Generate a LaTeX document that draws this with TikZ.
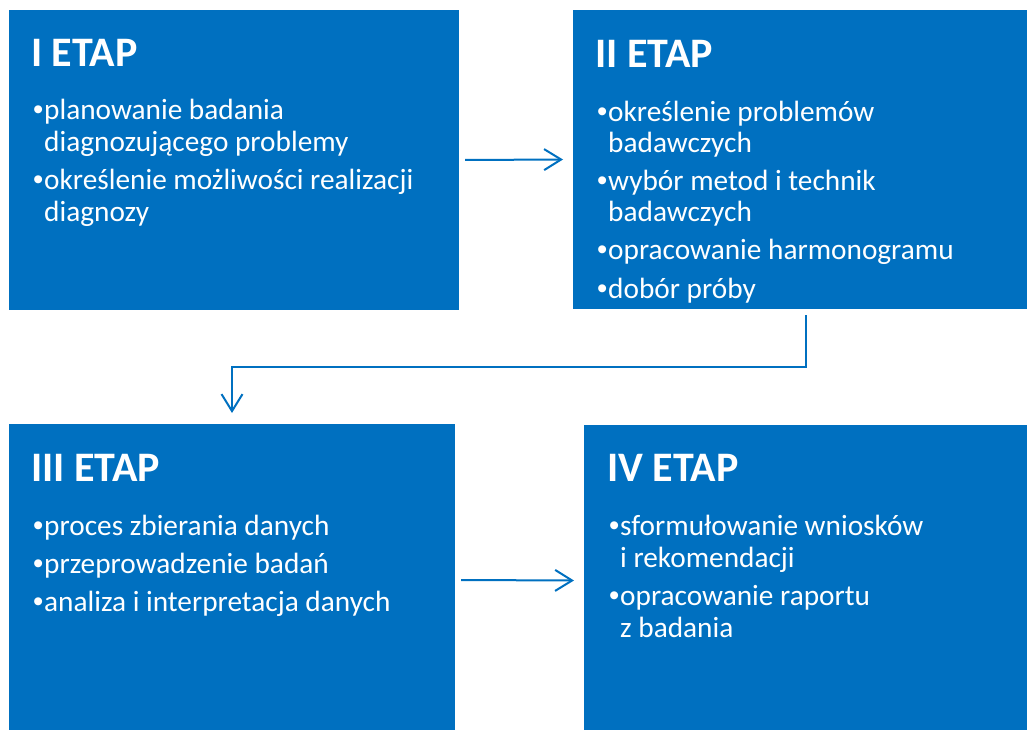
\documentclass[tikz,border=0pt]{standalone}
\usepackage{fontspec}
\setmainfont{Carlito}
\newfontfamily\kropka{Liberation Sans}
\usetikzlibrary{arrows.meta}
\definecolor{niebieski}{HTML}{0070C0}
\newlength{\wcieciepunktu}
\setlength{\wcieciepunktu}{11pt}
\newlength{\odstepmiedzypunktami}
\setlength{\odstepmiedzypunktami}{6pt}
\newcommand{\punkt}[1]{\hangindent=\wcieciepunktu\hangafter=1\noindent\makebox[\wcieciepunktu][l]{\kropka •}#1\par}
\newcommand{\lista}[1]{\parbox[t]{420pt}{\setlength{\parskip}{\odstepmiedzypunktami}#1}}

\begin{document}
\begin{tikzpicture}[x=1pt, y=-1pt,
	etap/.style={rectangle, fill=niebieski, draw=none, inner sep=0pt, outer sep=0pt},
	tytul/.style={anchor=base west, inner sep=0pt, text=white, font=\fontsize{42}{50}\selectfont\bfseries},
	punkty/.style={anchor=base west, inner sep=0pt, text=white, font=\fontsize{29.3}{32}\selectfont},
	strzalka/.style={draw=niebieski, line width=2pt, -{Straight Barb[length=17pt, width=21pt, line width=2pt]}}]
	\useasboundingbox (0,0) rectangle (1027,730);
	% the four stages
	\node[etap, minimum width=450pt, minimum height=300pt] (etapI) at (234,160) {};
	\node[etap, minimum width=454pt, minimum height=299pt] (etapII) at (800,159.5) {};
	\node[etap, minimum width=446pt, minimum height=306pt] (etapIII) at (232,577) {};
	\node[etap, minimum width=443pt, minimum height=305pt] (etapIV) at (805.5,577.5) {};
	% titles and points
	\node[tytul] (tytulI) at ([shift={(22pt,-57pt)}]etapI.north west) {I ETAP};
	\node[punkty] (punktyI) at ([shift={(24pt,-110pt)}]etapI.north west)
		{\lista{\punkt{planowanie badania\\diagnozującego problemy}
		 \punkt{określenie możliwości realizacji\\diagnozy}}};
	\node[tytul] (tytulII) at ([shift={(22pt,-58pt)}]etapII.north west) {II ETAP};
	\node[punkty, font=\fontsize{29.3}{30.5}\selectfont] (punktyII) at ([shift={(24pt,-112pt)}]etapII.north west)
		{\setlength{\odstepmiedzypunktami}{8pt}%
		 \lista{\punkt{określenie problemów\\badawczych}
		 \punkt{wybór metod i technik\\badawczych}
		 \punkt{opracowanie harmonogramu}
		 \punkt{dobór próby}}};
	\node[tytul] (tytulIII) at ([shift={(22pt,-57pt)}]etapIII.north west) {III ETAP};
	\node[punkty] (punktyIII) at ([shift={(24pt,-111pt)}]etapIII.north west)
		{\lista{\punkt{proces zbierania danych}
		 \punkt{przeprowadzenie badań}
		 \punkt{analiza i interpretacja danych}}};
	\node[tytul] (tytulIV) at ([shift={(23pt,-56pt)}]etapIV.north west) {IV ETAP};
	\node[punkty] (punktyIV) at ([shift={(25pt,-110pt)}]etapIV.north west)
		{\lista{\punkt{sformułowanie wniosków\\i rekomendacji}
		 \punkt{opracowanie raportu\\z badania}}};
	% connectors
	\draw[strzalka] ([xshift=6pt]etapI.east) -- ([xshift=-10pt]etapII.west);
	\draw[strzalka] ([shift={(6pt,-6pt)}]etapII.south) -- ++(0,52) -| ([yshift=11pt]etapIII.north);
	\draw[strzalka] ([shift={(6pt,-3pt)}]etapIII.east) -- ([shift={(-10pt,-3pt)}]etapIV.west);
\end{tikzpicture}
\end{document}
